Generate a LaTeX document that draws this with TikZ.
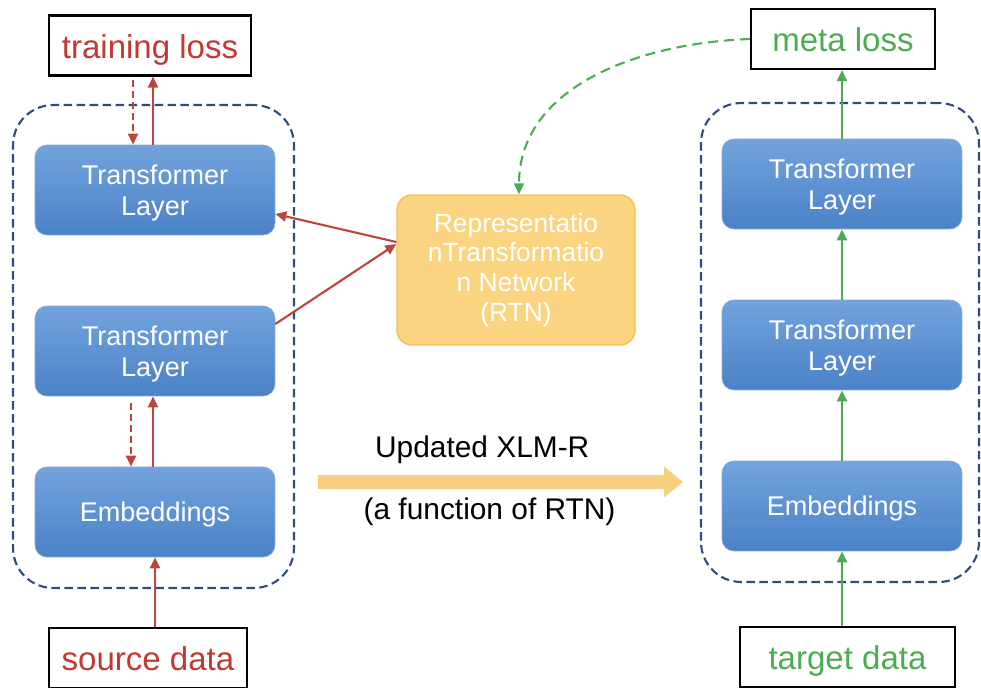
\documentclass[tikz,border=0pt]{standalone}
\usepackage{fontspec}
\setmainfont{Liberation Sans}
\usetikzlibrary{arrows.meta, positioning}

\definecolor{lossred}{RGB}{192,57,50}
\definecolor{arrred}{RGB}{190,68,62}
\definecolor{metagreen}{RGB}{76,172,82}
\definecolor{layertop}{RGB}{114,163,221}
\definecolor{layerbot}{RGB}{74,130,199}
\definecolor{rtnfill}{RGB}{250,212,128}
\definecolor{rtnedge}{RGB}{242,192,84}
\definecolor{groupblue}{RGB}{50,74,130}
\definecolor{updfill}{RGB}{248,208,125}

\begin{document}
\begin{tikzpicture}[x=0.02cm, y=-0.02cm,
  layer/.style={rounded corners=0.24cm, top color=layertop, bottom color=layerbot,
    draw=layerbot!70!white, text=white, minimum width=4.8cm, minimum height=1.8cm,
    align=center, text depth=0pt, font=\fontsize{15.4}{17.6}\selectfont},
  lossbox/.style={draw=black, line width=1.2pt, minimum height=1.2cm, inner sep=0pt,
    text height=0.5cm, text depth=0pt, font=\fontsize{18.8}{22}\selectfont},
  group/.style={draw=groupblue, dash pattern=on 0.17cm off 0.09cm, line width=1.2pt,
    rounded corners=0.8cm},
  rtnbox/.style={rounded corners=0.3cm, fill=rtnfill, draw=rtnedge, line width=0.8pt,
    text=white, minimum width=4.76cm, minimum height=3cm, align=center,
    font=\fontsize{15}{17}\selectfont},
  redarr/.style={draw=arrred, line width=1.2pt, -{Triangle[length=0.22cm, width=0.2cm]}},
  redback/.style={redarr, dash pattern=on 0.14cm off 0.08cm},
  greenarr/.style={draw=metagreen, line width=1.2pt, -{Triangle[length=0.22cm, width=0.2cm]}},
  greenback/.style={greenarr, dash pattern=on 0.2cm off 0.12cm},
  updarrow/.style={draw=updfill, line width=0.28cm,
    -{Triangle[length=0.38cm, width=0.62cm, line width=0pt]}},
  updtext/.style={font=\fontsize{17}{20}\selectfont}]
  \useasboundingbox (0,0) rectangle (981,687);

  % source side
  \node[group, minimum width=5.62cm, minimum height=9.66cm] (lgroup) at (153.5,346.5) {};
  \node[layer] (ltop) at (155,190) {Transformer\\Layer};
  \node[layer] (lmid) at (155,351) {Transformer\\Layer};
  \node[layer] (lemb) at (155,512) {Embeddings};
  \node[lossbox, minimum width=4.04cm, text=lossred] (tloss) at (150,45.5) {training loss};
  \node[lossbox, minimum width=3.96cm, text=lossred] (src) at (148,658) {source data};

  % target side
  \node[group, minimum width=5.56cm, minimum height=9.58cm] (rgroup) at (840,342.5) {};
  \node[layer] (rtop) at (842,184) {Transformer\\Layer};
  \node[layer] (rmid) at (842,345) {Transformer\\Layer};
  \node[layer] (remb) at (842,506) {Embeddings};
  \node[lossbox, minimum width=3.68cm, text=metagreen] (mloss) at (843,39) {meta loss};
  \node[lossbox, minimum width=4.3cm, text=metagreen] (tgt) at (847.5,657) {target data};

  \node[rtnbox] (rtn) at (516,270) {Representatio\\nTransformatio\\n Network\\(RTN)};

  \coordinate (upds) at (318,482);
  \coordinate (upde) at (683,482);
  \draw[updarrow] (upds) -- (upde)
    node[pos=0.45, yshift=0.64cm, updtext] {Updated XLM-R}
    node[pos=0.47, yshift=-0.6cm, updtext] {(a function of RTN)};

  \draw[redback, shorten <=0.06cm] ([xshift=-0.44cm]ltop.north |- tloss.south) -- ([xshift=-0.44cm]ltop.north);
  \draw[redarr] ([xshift=-0.04cm]ltop.north) -- ([xshift=-0.04cm]ltop.north |- tloss.south);
  \draw[redback, shorten <=0.14cm] ([xshift=-0.48cm]lmid.south) -- ([xshift=-0.48cm]lemb.north);
  \draw[redarr] ([xshift=-0.04cm]lemb.north) -- ([xshift=-0.04cm]lmid.south);
  \draw[redarr] (lemb.south |- src.north) -- (lemb.south);
  \draw[redarr] ([yshift=0.56cm]rtn.west) -- ([yshift=-0.48cm]ltop.east);
  \draw[redarr] ([yshift=0.54cm]lmid.east) -- ([yshift=0.52cm]rtn.west);

  \draw[greenarr] (remb.south |- tgt.north) -- (remb.south);
  \draw[greenarr] (remb.north) -- (rmid.south);
  \draw[greenarr] (rmid.north) -- (rtop.south);
  \draw[greenarr] (rtop.north) -- (rtop.north |- mloss.south);
  \draw[greenback] (mloss.west) to[out=182, in=90] ([xshift=0.06cm]rtn.north);
\end{tikzpicture}
\end{document}
